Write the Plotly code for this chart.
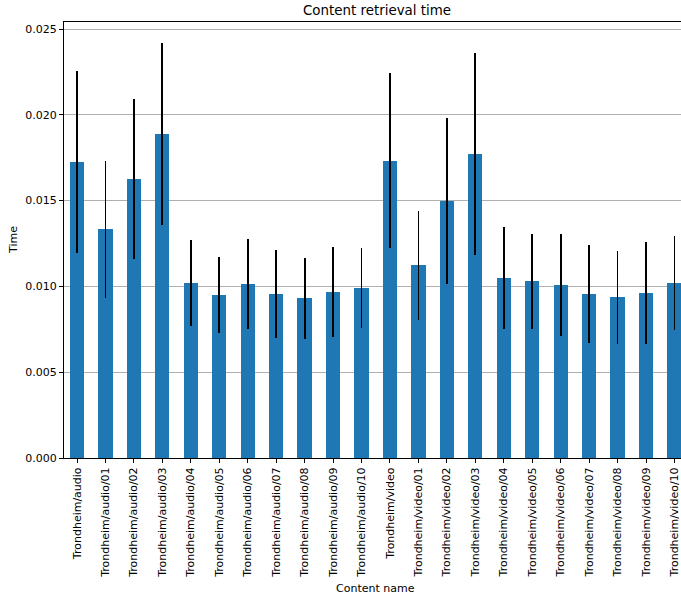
import plotly.graph_objects as go

categories = ["Trondheim/audio"] + [f"Trondheim/audio/{i:02d}" for i in range(1, 11)] + \
             ["Trondheim/video"] + [f"Trondheim/video/{i:02d}" for i in range(1, 11)]

mean_time = [0.01723, 0.01333, 0.01624, 0.01886, 0.01020, 0.00950, 0.01012, 0.00956,
             0.00931, 0.00966, 0.00991, 0.01733, 0.01123, 0.01498, 0.01773, 0.01049,
             0.01031, 0.01006, 0.00954, 0.00936, 0.00962, 0.01018]
err_time = [0.00531, 0.00398, 0.00466, 0.00530, 0.00252, 0.00222, 0.00262, 0.00256,
            0.00237, 0.00261, 0.00235, 0.00511, 0.00319, 0.00482, 0.00588, 0.00300,
            0.00277, 0.00297, 0.00285, 0.00273, 0.00296, 0.00273]

y_ticks = [0.0, 0.005, 0.010, 0.015, 0.020, 0.025]

W, H = 681, 596
L, T, B = 64, 22, 138
FONT = "DejaVu Sans"

fig = go.Figure(go.Bar(
    x=list(range(len(categories))), y=mean_time, width=0.5,
    marker=dict(color="#1f77b4", line=dict(width=0)),
    error_y=dict(type="data", array=err_time, color="black", thickness=1.8, width=0),
))

fig.update_layout(
    width=W, height=H, margin=dict(l=L, r=0, t=T, b=B),
    paper_bgcolor="white", plot_bgcolor="white",
    font=dict(family=FONT, size=11, color="black"),
    showlegend=False, bargap=0,
    xaxis=dict(
        range=[-0.457, 21.23], tickmode="array",
        tickvals=list(range(len(categories))), ticktext=categories,
        tickangle=-90, ticks="outside", ticklen=4, tickwidth=1, tickcolor="black",
        ticklabeloverflow="allow",
        showline=True, linecolor="black", linewidth=1, mirror=True,
        showgrid=False, zeroline=False, tickfont=dict(size=11, family=FONT),
    ),
    yaxis=dict(
        range=[0, 0.02541], tickmode="array", tickvals=y_ticks,
        ticktext=[f"{v:.3f}" for v in y_ticks],
        ticks="outside", ticklen=4, tickwidth=1, tickcolor="black",
        showline=True, linecolor="black", linewidth=1, mirror=False,
        showgrid=True, gridcolor="#b0b0b0", gridwidth=1, zeroline=False,
        tickfont=dict(size=11, family=FONT),
    ),
    annotations=[
        dict(text="Content retrieval time", xref="paper", yref="paper",
             x=(377 - L) / (W - L), y=1, yshift=2, xanchor="center", yanchor="bottom",
             showarrow=False, font=dict(size=13.4, family=FONT)),
        dict(text="Content name", xref="paper", yref="paper",
             x=(376 - L) / (W - L), y=0, yshift=-(588 - (H - B)), xanchor="center", yanchor="middle",
             showarrow=False, font=dict(size=11, family=FONT)),
        dict(text="Time", xref="paper", yref="paper",
             x=0, xshift=-(L - 13), y=(H - B - 240) / (H - B - T), xanchor="center", yanchor="middle",
             textangle=-90, showarrow=False, font=dict(size=11, family=FONT)),
    ],
)

fig.write_html("out.html")
